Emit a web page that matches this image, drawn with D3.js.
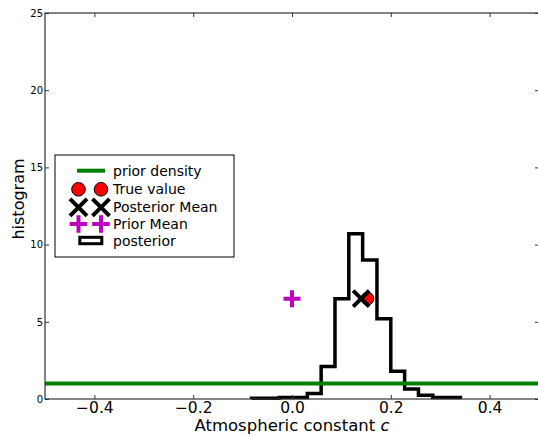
<!DOCTYPE html>
<html>
<head>
<meta charset="utf-8">
<script src="https://cdn.jsdelivr.net/npm/d3@7"></script>
<style>
  html, body { margin: 0; padding: 0; background: #fff; }
  svg { display: block; font-family: "DejaVu Sans", sans-serif; }
</style>
</head>
<body>
<svg id="chart" width="538" height="437"></svg>
<script>
// ---- data ----
const binEdges = [-0.082, -0.054, -0.026, 0.002, 0.031, 0.059, 0.087, 0.115, 0.143, 0.172, 0.200, 0.228, 0.256, 0.285, 0.313, 0.341];
const binHeights = [0.05, 0.05, 0.1, 0.1, 0.35, 2.1, 6.5, 10.7, 9.0, 5.2, 1.8, 0.65, 0.25, 0.1, 0.1];
const priorDensity = 1.0;
const trueValue = [0.153, 6.5];
const posteriorMean = [0.140, 6.5];
const priorMean = [0.0, 6.5];
const xTicks = [-0.4, -0.2, 0.0, 0.2, 0.4];
const yTicks = [0, 5, 10, 15, 20, 25];
const xDomain = [-0.5, 0.5];
const yDomain = [0, 25];
const legendLabels = ["prior density", "True value", "Posterior Mean", "Prior Mean", "posterior"];

// ---- layout ----
const L = 45, R = 539, T = 13, B = 399;
const svg = d3.select("#chart");
const x = d3.scaleLinear().domain(xDomain).range([L, R]);
const y = d3.scaleLinear().domain(yDomain).range([B, T]);
const fmtX = d => d3.format(".1f")(d).replace("-", "\u2212");

// histogram (step)
const pts = [[binEdges[0], 0]];
binHeights.forEach((h, i) => { pts.push([binEdges[i], h]); pts.push([binEdges[i + 1], h]); });
pts.push([binEdges[binEdges.length - 1], 0]);
svg.append("path")
  .attr("d", d3.line().x(d => x(d[0])).y(d => y(d[1]))(pts))
  .attr("fill", "none").attr("stroke", "#000").attr("stroke-width", 3.5)
  .attr("stroke-linejoin", "miter");

// prior density line
svg.append("line")
  .attr("x1", x(xDomain[0])).attr("x2", x(xDomain[1]))
  .attr("y1", y(priorDensity)).attr("y2", y(priorDensity))
  .attr("stroke", "#008000").attr("stroke-width", 4);

// markers
function circleMark(g, cx, cy, r) {
  g.append("circle").attr("cx", cx).attr("cy", cy).attr("r", r)
    .attr("fill", "#ff0000").attr("stroke", "#000").attr("stroke-width", 1);
}
function xMark(g, cx, cy, s) {
  g.append("path").attr("d", `M${cx - s},${cy - s}L${cx + s},${cy + s}M${cx - s},${cy + s}L${cx + s},${cy - s}`)
    .attr("stroke", "#000").attr("stroke-width", 4).attr("fill", "none");
}
function plusMark(g, cx, cy, s) {
  g.append("path").attr("d", `M${cx - s},${cy}L${cx + s},${cy}M${cx},${cy - s}L${cx},${cy + s}`)
    .attr("stroke", "#bf00bf").attr("stroke-width", 4).attr("fill", "none");
}
const mk = svg.append("g");
circleMark(mk, x(trueValue[0]), y(trueValue[1]), 6.3);
xMark(mk, x(posteriorMean[0]), y(posteriorMean[1]), 8);
plusMark(mk, x(priorMean[0]), y(priorMean[1]), 8.5);

// axes
const axisColor = "#333";
function styleAxis(g, showText, fs) {
  g.select(".domain").remove();
  g.selectAll(".tick line").attr("stroke", axisColor).attr("stroke-width", 1);
  g.selectAll(".tick text").attr("fill", "#000").attr("font-family", "DejaVu Sans").attr("font-size", fs);
  if (!showText) g.selectAll(".tick text").remove();
}
svg.append("g").attr("transform", `translate(0,${B})`)
  .call(d3.axisBottom(x).tickValues(xTicks).tickFormat(fmtX).tickSize(-4).tickPadding(3))
  .call(g => styleAxis(g, true, 15.5));
svg.append("g").attr("transform", `translate(0,${T})`)
  .call(d3.axisTop(x).tickValues(xTicks).tickSize(-4))
  .call(g => styleAxis(g, false, 16));
svg.append("g").attr("transform", `translate(${L},0)`)
  .call(d3.axisLeft(y).tickValues(yTicks).tickFormat(d3.format("d")).tickSize(-4).tickPadding(2))
  .call(g => styleAxis(g, true, 10));
svg.append("g").attr("transform", `translate(${R},0)`)
  .call(d3.axisRight(y).tickValues(yTicks).tickSize(-4))
  .call(g => styleAxis(g, false, 10));

// frame
svg.append("rect").attr("x", L).attr("y", T).attr("width", R - L).attr("height", B - T)
  .attr("fill", "none").attr("stroke", axisColor).attr("stroke-width", 1.2);

// axis labels
const xl = svg.append("text").attr("x", (L + R) / 2).attr("y", 431)
  .attr("text-anchor", "middle").attr("font-size", 16.5).attr("fill", "#000");
xl.append("tspan").text("Atmospheric constant ");
xl.append("tspan").attr("font-style", "italic").text("c");
svg.append("text").attr("transform", "translate(24,199) rotate(-90)")
  .attr("text-anchor", "middle").attr("font-size", 16).attr("fill", "#000").text("histogram");

// legend
const lg = svg.append("g");
lg.append("rect").attr("x", 55).attr("y", 155).attr("width", 179).attr("height", 102)
  .attr("fill", "#fff").attr("stroke", "#000").attr("stroke-width", 1);
const rowY = [170.7, 189.3, 207.3, 224, 240.5];
const hx0 = 78.5, hx1 = 101;
lg.append("line").attr("x1", 77).attr("x2", 105).attr("y1", rowY[0]).attr("y2", rowY[0])
  .attr("stroke", "#008000").attr("stroke-width", 4);
circleMark(lg, hx0, rowY[1], 6.8); circleMark(lg, hx1, rowY[1], 6.8);
xMark(lg, hx0, rowY[2], 8.5); xMark(lg, hx1, rowY[2], 8.5);
plusMark(lg, hx0, rowY[3], 8.8); plusMark(lg, hx1, rowY[3], 8.8);
lg.append("rect").attr("x", 79.8).attr("y", rowY[4] - 3.2).attr("width", 22).attr("height", 6.4)
  .attr("fill", "#fff").attr("stroke", "#000").attr("stroke-width", 3);
lg.selectAll("text.lab").data(legendLabels).enter().append("text")
  .attr("x", 113).attr("y", (d, i) => rowY[i]).attr("dy", "0.36em")
  .attr("font-size", 14).attr("fill", "#000").text(d => d);
</script>
</body>
</html>
